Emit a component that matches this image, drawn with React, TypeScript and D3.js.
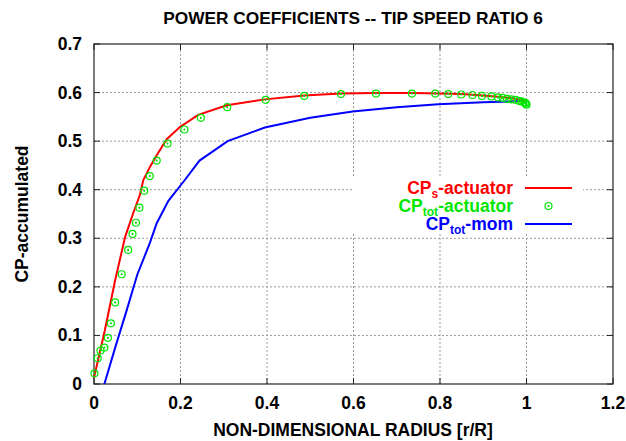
import * as d3 from 'd3';

const W = 626, H = 441;
const margin = { left: 94, right: 13, top: 44, bottom: 57 };

const title = 'POWER COEFFICIENTS -- TIP SPEED RATIO 6';
const xTitle = 'NON-DIMENSIONAL RADIUS [r/R]';
const yTitle = 'CP-accumulated';
const xTicks = [0, 0.2, 0.4, 0.6, 0.8, 1, 1.2];
const yTicks = [0, 0.1, 0.2, 0.3, 0.4, 0.5, 0.6, 0.7];

// CP_s-actuator (red line)
const cpsR = [0, 0.025, 0.049, 0.072, 0.09, 0.106, 0.114, 0.13, 0.145, 0.168, 0.2, 0.241, 0.307, 0.395, 0.486, 0.571, 0.652, 0.735, 0.8, 0.85, 0.9, 0.94, 0.97, 0.99, 1.0];
const cpsV = [0.013, 0.11, 0.214, 0.303, 0.35, 0.389, 0.42, 0.448, 0.471, 0.504, 0.53, 0.554, 0.574, 0.586, 0.594, 0.598, 0.599, 0.599, 0.598, 0.597, 0.594, 0.591, 0.588, 0.585, 0.583];

// CP_tot-actuator (green circles)
const cptR = [0.001, 0.0085, 0.015, 0.024, 0.032, 0.039, 0.049, 0.064, 0.079, 0.089, 0.097, 0.105, 0.116, 0.129, 0.145, 0.17, 0.209, 0.247, 0.308, 0.397, 0.486, 0.571, 0.652, 0.735, 0.789, 0.819, 0.849, 0.875, 0.897, 0.919, 0.934, 0.945, 0.955, 0.965, 0.974, 0.982, 0.988, 0.993, 0.997, 0.999, 1.0];
const cptV = [0.022, 0.053, 0.069, 0.075, 0.095, 0.125, 0.168, 0.226, 0.276, 0.309, 0.332, 0.363, 0.398, 0.428, 0.46, 0.495, 0.524, 0.548, 0.57, 0.585, 0.593, 0.597, 0.598, 0.598, 0.598, 0.597, 0.596, 0.595, 0.593, 0.592, 0.59, 0.589, 0.587, 0.586, 0.585, 0.583, 0.582, 0.58, 0.579, 0.577, 0.575];

// CP_tot-mom (blue line)
const momR = [0.024, 0.05, 0.075, 0.1, 0.129, 0.145, 0.172, 0.21, 0.244, 0.309, 0.395, 0.5, 0.598, 0.7, 0.796, 0.9, 1.0];
const momV = [0, 0.078, 0.15, 0.225, 0.29, 0.331, 0.377, 0.42, 0.46, 0.5, 0.528, 0.548, 0.561, 0.57, 0.576, 0.58, 0.583];

const font = '"Liberation Sans", Arial, Helvetica, sans-serif';

export default function App() {
	const x = d3.scaleLinear().domain([0, 1.2]).range([margin.left, W - margin.right]);
	const y = d3.scaleLinear().domain([0, 0.7]).range([H - margin.bottom, margin.top]);
	const line = d3.line<number>().x((d) => x(d[0])).y((d) => y(d[1]));
	const red = cpsR.map((r, i) => [r, cpsV[i]]);
	const blue = momR.map((r, i) => [r, momV[i]]);
	const x0 = x(0), x1 = x(1.2), y0 = y(0), y1 = y(0.7);
	const tick = 6;

	// legend
	const lgTextX = 513, lgX0 = 525, lgX1 = 572;
	const rows = [
		{ c: '#ff0000', sub: 's', y: 188, kind: 'line' },
		{ c: '#00e600', sub: 'tot', y: 206, kind: 'point' },
		{ c: '#0000ff', sub: 'tot', y: 224, kind: 'line' },
	];
	const rowSuffix = ['-actuator', '-actuator', '-mom'];

	return (
		<div style={{ position: 'fixed', left: 0, top: 0 }}>
			<svg width={W} height={H} style={{ display: 'block', background: '#fff' }} fontFamily={font}>
				{/* grid */}
				<g stroke="#9a9a9a" strokeWidth={1} strokeDasharray="2,2">
					{xTicks.slice(1, -1).map((t) => (
						<line key={'gx' + t} x1={x(t)} x2={x(t)} y1={y0} y2={y1} />
					))}
					{yTicks.slice(1, -1).map((t) => (
						<line key={'gy' + t} x1={x0} x2={x1} y1={y(t)} y2={y(t)} />
					))}
				</g>
				{/* legend box (opaque) */}
				<rect x={352} y={178} width={231} height={55} fill="#fff" />
				{/* ticks on all sides */}
				<g stroke="#222" strokeWidth={1}>
					{xTicks.map((t) => (
						<g key={'tx' + t}>
							<line x1={x(t)} x2={x(t)} y1={y0} y2={y0 - tick} />
							<line x1={x(t)} x2={x(t)} y1={y1} y2={y1 + tick} />
						</g>
					))}
					{yTicks.map((t) => (
						<g key={'ty' + t}>
							<line x1={x0} x2={x0 + tick} y1={y(t)} y2={y(t)} />
							<line x1={x1} x2={x1 - tick} y1={y(t)} y2={y(t)} />
						</g>
					))}
				</g>
				<rect x={x0} y={y1} width={x1 - x0} height={y0 - y1} fill="none" stroke="#222" strokeWidth={1.2} />
				{/* series */}
				<path d={line(blue as any) || ''} fill="none" stroke="#0000ff" strokeWidth={2} />
				<path d={line(red as any) || ''} fill="none" stroke="#ff0000" strokeWidth={2} />
				<g stroke="#00e600" fill="none" strokeWidth={1.2}>
					{cptR.map((r, i) => (
						<g key={'p' + i}>
							<circle cx={x(r)} cy={y(cptV[i])} r={3.5} />
							<circle cx={x(r)} cy={y(cptV[i])} r={0.5} fill="#00e600" />
						</g>
					))}
				</g>
				{/* tick labels */}
				<g fontSize={17.5} fontWeight="bold" fill="#000">
					{xTicks.map((t) => (
						<text key={'lx' + t} x={x(t)} y={409} textAnchor="middle">{d3.format('~g')(t)}</text>
					))}
					{yTicks.map((t) => (
						<text key={'ly' + t} x={82} y={y(t) + 6} textAnchor="end">{d3.format('~g')(t)}</text>
					))}
				</g>
				{/* titles */}
				<text x={353} y={24} textAnchor="middle" fontSize={17.3} fontWeight="bold">{title}</text>
				<text x={353} y={436} textAnchor="middle" fontSize={17.5} fontWeight="bold">{xTitle}</text>
				<text transform={`translate(28,${(y0 + y1) / 2}) rotate(-90)`} textAnchor="middle" fontSize={17.5} fontWeight="bold">{yTitle}</text>
				{/* legend */}
				<g fontSize={17.5} fontWeight="bold">
					{rows.map((r, i) => (
						<g key={'lg' + i}>
							<text x={lgTextX} y={r.y + 6} textAnchor="end" fill={r.c}>
								CP<tspan fontSize={12} dy={4}>{r.sub}</tspan><tspan dy={-4}>{rowSuffix[i]}</tspan>
							</text>
							{r.kind === 'line' ? (
								<line x1={lgX0} x2={lgX1} y1={r.y} y2={r.y} stroke={r.c} strokeWidth={2} />
							) : (
								<g stroke={r.c} fill="none" strokeWidth={1.2}>
									<circle cx={(lgX0 + lgX1) / 2} cy={r.y} r={3.5} />
									<circle cx={(lgX0 + lgX1) / 2} cy={r.y} r={0.5} fill={r.c} />
								</g>
							)}
						</g>
					))}
				</g>
			</svg>
		</div>
	);
}
